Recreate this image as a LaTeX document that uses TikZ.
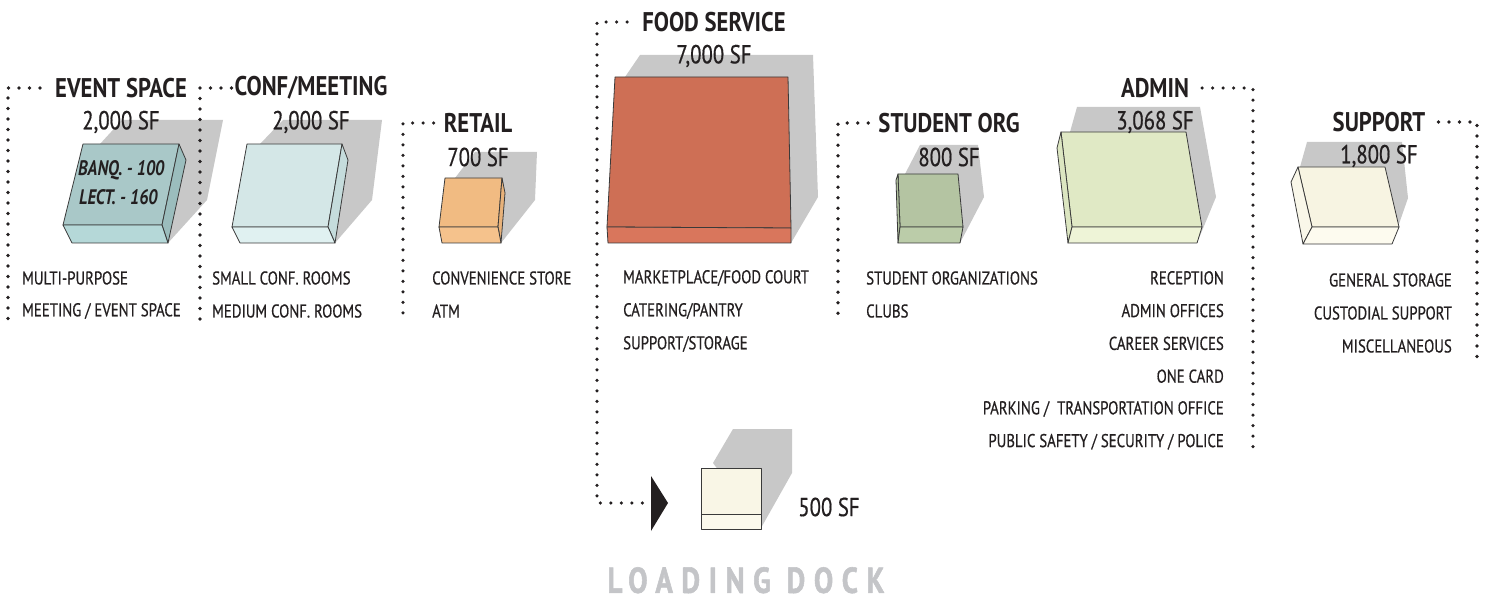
\documentclass[tikz,border=0pt]{standalone}
\usepackage{fontspec}
\setmainfont{PT Sans}[FakeStretch=0.8, UprightFeatures={FakeBold=0.6}, BoldFeatures={FakeStretch=0.84}]
\newfontfamily\dockfont{PT Sans Bold}[FakeStretch=0.8, FakeBold=1.5, LetterSpace=24]
\usetikzlibrary{positioning}
\definecolor{ink}{HTML}{231F20}
\definecolor{shadowgray}{HTML}{C8C8C8}
\definecolor{dockgray}{HTML}{C4C5C8}
\definecolor{boxline}{HTML}{3A3A3A}
\definecolor{evtop}{HTML}{A9C8C8}\definecolor{evside}{HTML}{9BBDBD}\definecolor{evband}{HTML}{B5D8D8}
\definecolor{cftop}{HTML}{D4E7E7}\definecolor{cfside}{HTML}{C5DCDC}\definecolor{cfband}{HTML}{E0F1F1}
\definecolor{rttop}{HTML}{F1BB82}\definecolor{rtside}{HTML}{E8B27A}\definecolor{rtband}{HTML}{F5C28C}
\definecolor{fdtop}{HTML}{CE6F55}\definecolor{fdband}{HTML}{D9765C}
\definecolor{sttop}{HTML}{B4C4A2}\definecolor{stleft}{HTML}{AFC09D}\definecolor{stband}{HTML}{BBCCA9}
\definecolor{adtop}{HTML}{E0E9C5}\definecolor{adleft}{HTML}{DCE6C1}\definecolor{adband}{HTML}{EEF4D7}
\definecolor{sptop}{HTML}{F7F4E2}\definecolor{spleft}{HTML}{F9F7E9}\definecolor{spband}{HTML}{FDFBEF}
\definecolor{ldtop}{HTML}{F9F6E6}\definecolor{ldband}{HTML}{FBF9EC}
\begin{document}
\begin{tikzpicture}[x=1pt, y=-1pt, line join=round, text=ink,
	dotline/.style={ink, line width=3.6pt, line cap=round, dash pattern=on 0pt off 10.5pt},
	shade/.style={fill=shadowgray, draw=none},
	face/.style={draw=boxline, line width=0.8pt},
	ttl/.style={font=\fontsize{27}{30}\selectfont\bfseries, inner sep=0pt},
	sf/.style={font=\fontsize{26}{30}\selectfont, inner sep=0pt},
	item/.style={font=\fontsize{18.5}{22}\selectfont, inner sep=0pt},
	inbox/.style={font=\fontsize{21}{22}\selectfont\bfseries\itshape, inner sep=0pt, anchor=west},
	node distance=34pt, on grid]
\useasboundingbox (0,0) rectangle (1487,601);

% shadows
\fill[shade] (100,144)--(122,120)--(223,120)--(207,200)--(168,243)--cycle;
\fill[shade] (260,144)--(283,120)--(382,120)--(372,200)--(335,243)--cycle;
\fill[shade] (455,178)--(475,152)--(537,152)--(535,200)--(501,243)--cycle;
\fill[shade] (625,77)--(640,55)--(813,55)--(818,197)--(791,243)--cycle;
\fill[shade] (905,174)--(920,145)--(978,145)--(984,197)--(960,243)--cycle;
\fill[shade] (1070,132)--(1077,107)--(1200,107)--(1216,197)--(1197,243)--cycle;
\fill[shade] (1300,167)--(1307,142)--(1402,142)--(1408,198)--(1392,244)--cycle;
\fill[shade] (713,463)--(733,429)--(792,429)--(792,473)--(761,528)--cycle;

% event space block
\filldraw[face, fill=evtop] (83,144)--(179,144)--(162,225)--(63,225)--cycle;
\filldraw[face, fill=evside] (179,144)--(186,160)--(168,243)--(162,225)--cycle;
\filldraw[face, fill=evband] (63,225)--(162,225)--(168,243)--(72,243)--cycle;
% conf block
\filldraw[face, fill=cftop] (247,144)--(342,144)--(328,227)--(232,227)--cycle;
\filldraw[face, fill=cfside] (342,144)--(348,160)--(335,243)--(328,227)--cycle;
\filldraw[face, fill=cfband] (232,227)--(328,227)--(335,243)--(240,243)--cycle;
% retail block
\filldraw[face, fill=rttop] (445,178)--(502,178)--(498,227)--(439,227)--cycle;
\filldraw[face, fill=rtside] (502,178)--(505,193)--(501,243)--(498,227)--cycle;
\filldraw[face, fill=rtband] (439,227)--(498,227)--(501,243)--(442,243)--cycle;
% food block
\filldraw[face, fill=fdtop] (615,77)--(788,77)--(791,228)--(607,227)--cycle;
\filldraw[face, fill=fdband] (607,227)--(791,228)--(791,243)--(608,243)--cycle;
% student block
\filldraw[face, fill=sttop] (898,174)--(958,174)--(963,227)--(900,227)--cycle;
\filldraw[face, fill=stleft] (898,174)--(896,180)--(898,243)--(900,227)--cycle;
\filldraw[face, fill=stband] (900,227)--(963,227)--(960,243)--(898,243)--cycle;
% admin block
\filldraw[face, fill=adtop] (1061,132)--(1186,132)--(1202,227)--(1072,227)--cycle;
\filldraw[face, fill=adleft] (1057,148)--(1061,132)--(1072,227)--(1068,243)--cycle;
\filldraw[face, fill=adband] (1072,227)--(1202,227)--(1197,243)--(1068,243)--cycle;
% support block
\filldraw[face, fill=sptop] (1298,167)--(1385,167)--(1399,227)--(1312,227)--cycle;
\filldraw[face, fill=spleft] (1291,182)--(1298,167)--(1312,227)--(1303,244)--cycle;
\filldraw[face, fill=spband] (1312,227)--(1399,227)--(1392,244)--(1303,244)--cycle;
% loading block
\filldraw[face, fill=ldtop] (701,468)--(761,468)--(761,514)--(701,514)--cycle;
\filldraw[face, fill=ldband] (701,514)--(761,514)--(761,529)--(701,529)--cycle;

% titles and areas
\node[ttl] (evT) at (121,88) {EVENT SPACE};
\node[sf, below=of evT] (evS) {2,000 SF};
\node[ttl] (cfT) at (311,88) {CONF/MEETING};
\node[sf, below=of cfT] (cfS) {2,000 SF};
\node[ttl] (rtT) at (478,123) {RETAIL};
\node[sf, below=of rtT] (rtS) {700 SF};
\node[ttl] (fdT) at (714,22) {FOOD SERVICE};
\node[sf, below=of fdT] (fdS) {7,000 SF};
\node[ttl] (stT) at (949,123) {STUDENT ORG};
\node[sf, below=of stT] (stS) {800 SF};
\node[ttl] (adT) at (1155,88) {ADMIN};
\node[sf, below=of adT] (adS) {3,068 SF};
\node[ttl] (spT) at (1379,122) {SUPPORT};
\node[sf, below=of spT] (spS) {1,800 SF};
\node[sf] (ldS) at (829,507) {500 SF};
\node[font=\fontsize{36}{40}\dockfont, text=dockgray, inner sep=0pt, text depth=0pt] (ldT) at (746,580) {LOADING DOCK};

\node[inbox] (banq) at (78,170) {BANQ. - 100};
\node[inbox] (lect) at (79,197) {LECT. - 160};

% lists
\foreach \t [count=\i] in {MULTI-PURPOSE, MEETING / EVENT SPACE}
	\node[item, anchor=west] (ev\i) at (22,245+33*\i) {\t};
\foreach \t [count=\i] in {SMALL CONF. ROOMS, MEDIUM CONF. ROOMS}
	\node[item, anchor=west] (cf\i) at (212,245+33*\i) {\t};
\foreach \t [count=\i] in {CONVENIENCE STORE, ATM}
	\node[item, anchor=west] (rt\i) at (432,245+33*\i) {\t};
\foreach \t [count=\i] in {MARKETPLACE/FOOD COURT, CATERING/PANTRY, SUPPORT/STORAGE}
	\node[item, anchor=west] (fd\i) at (623,245+33*\i) {\t};
\foreach \t [count=\i] in {STUDENT ORGANIZATIONS, CLUBS}
	\node[item, anchor=west] (st\i) at (866,245+33*\i) {\t};
\foreach \t [count=\i] in {RECEPTION, ADMIN OFFICES, CAREER SERVICES, ONE CARD, PARKING / \ TRANSPORTATION OFFICE, PUBLIC SAFETY / SECURITY / POLICE}
	\node[item, anchor=east] (ad\i) at (1224,245+32.8*\i) {\t};
\foreach \t [count=\i] in {GENERAL STORAGE, CUSTODIAL SUPPORT, MISCELLANEOUS}
	\node[item, anchor=east] (sp\i) at (1452,247+33*\i) {\t};

% dotted brackets
\coordinate (evB) at (8,322);
\coordinate (cfB) at (200,322);
\coordinate (rtB) at (403,322);
\coordinate (fdB) at (597,503);
\coordinate (stB) at (838,322);
\coordinate (adB) at (1253,452);
\coordinate (spB) at (1477,357);
\coordinate (ldA) at (645,503);
\draw[dotline] ([xshift=-15pt]evT.west) -| (evB);
\draw[dotline] ([xshift=-3pt]cfT.west) -| (cfB);
\draw[dotline] ([xshift=-10pt]rtT.west) -| (rtB);
\draw[dotline] ([xshift=-15pt]fdT.west) -| (fdB) -- (ldA);
\draw[dotline] ([xshift=-10pt]stT.west) -| (stB);
\draw[dotline] ([xshift=13pt]adT.east) -| (adB);
\draw[dotline] ([xshift=13pt]spT.east) -| (spB);
\fill[ink] (651,476)--(668,503)--(651,531)--cycle;
\end{tikzpicture}
\end{document}
